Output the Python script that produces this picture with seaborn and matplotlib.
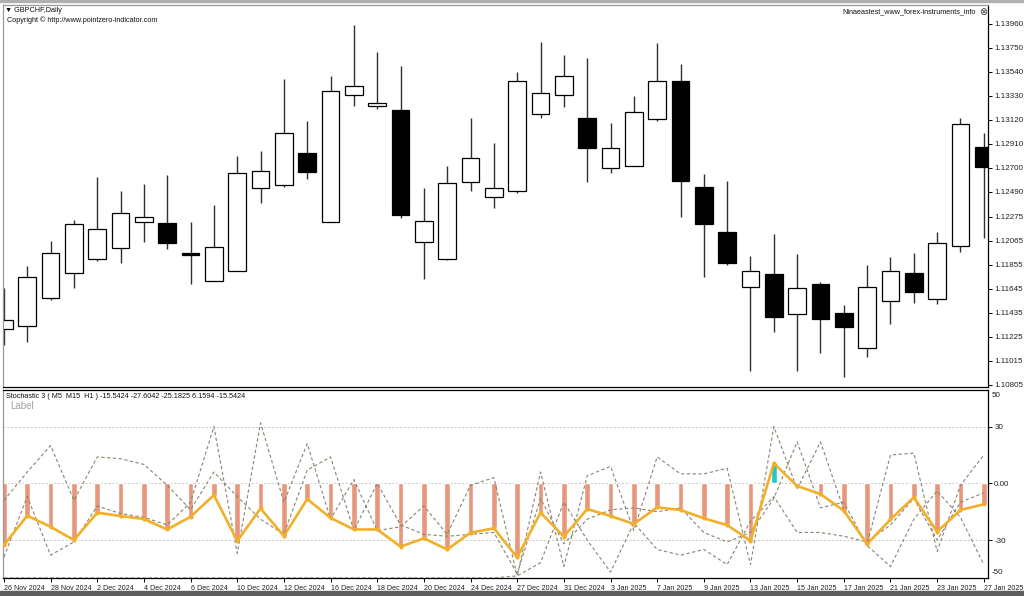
import matplotlib
matplotlib.use("Agg")
import matplotlib.pyplot as plt
import seaborn as sns
from matplotlib.patches import Rectangle

# GBPCHF daily bars, 26 Nov 2024 - 27 Jan 2025
dates = ["26 Nov 2024", "27 Nov 2024", "28 Nov 2024", "29 Nov 2024", "2 Dec 2024", "3 Dec 2024",
         "4 Dec 2024", "5 Dec 2024", "6 Dec 2024", "9 Dec 2024", "10 Dec 2024", "11 Dec 2024",
         "12 Dec 2024", "13 Dec 2024", "16 Dec 2024", "17 Dec 2024", "18 Dec 2024", "19 Dec 2024",
         "20 Dec 2024", "23 Dec 2024", "24 Dec 2024", "26 Dec 2024", "27 Dec 2024", "30 Dec 2024",
         "31 Dec 2024", "2 Jan 2025", "3 Jan 2025", "6 Jan 2025", "7 Jan 2025", "8 Jan 2025",
         "9 Jan 2025", "10 Jan 2025", "13 Jan 2025", "14 Jan 2025", "15 Jan 2025", "16 Jan 2025",
         "17 Jan 2025", "20 Jan 2025", "21 Jan 2025", "22 Jan 2025", "23 Jan 2025", "24 Jan 2025",
         "27 Jan 2025"]
opens = [1.11291, 1.11318, 1.11563, 1.11781, 1.11904, 1.12000, 1.12228, 1.12219, 1.11956, 1.11711,
         1.11799, 1.12525, 1.12551, 1.12831, 1.12228, 1.13339, 1.13243, 1.13208, 1.12053, 1.11904,
         1.12578, 1.12446, 1.12499, 1.13173, 1.13339, 1.13138, 1.12700, 1.12718, 1.13129, 1.13461,
         1.12534, 1.12140, 1.11659, 1.11773, 1.11423, 1.11685, 1.11431, 1.11125, 1.11536, 1.11781,
         1.11554, 1.12018, 1.12884]
highs = [1.11650, 1.11843, 1.12061, 1.12245, 1.12621, 1.12499, 1.12560, 1.12639, 1.12228, 1.12376,
         1.12805, 1.12849, 1.13479, 1.13111, 1.13505, 1.13951, 1.13715, 1.13593, 1.12525, 1.12718,
         1.13138, 1.12919, 1.13540, 1.13803, 1.13689, 1.13663, 1.13094, 1.13330, 1.13794, 1.13610,
         1.12648, 1.12586, 1.11930, 1.12123, 1.11948, 1.11703, 1.11501, 1.11851, 1.11921, 1.11956,
         1.12140, 1.13138, 1.13006]
lows = [1.11151, 1.11178, 1.11545, 1.11650, 1.11886, 1.11869, 1.12053, 1.11991, 1.11685, 1.11711,
        1.11799, 1.12394, 1.12534, 1.12604, 1.12228, 1.13243, 1.13216, 1.12263, 1.11729, 1.11895,
        1.12499, 1.12350, 1.12481, 1.13138, 1.13234, 1.12578, 1.12656, 1.12718, 1.13111, 1.12271,
        1.11746, 1.11851, 1.10924, 1.11265, 1.10924, 1.11081, 1.10871, 1.11046, 1.11335, 1.11519,
        1.11510, 1.11965, 1.12088]
closes = [1.11370, 1.11746, 1.11956, 1.12210, 1.12166, 1.12306, 1.12271, 1.12044, 1.11939, 1.12009,
          1.12656, 1.12674, 1.13006, 1.12665, 1.13374, 1.13418, 1.13269, 1.12289, 1.12236, 1.12569,
          1.12788, 1.12525, 1.13461, 1.13356, 1.13505, 1.12875, 1.12875, 1.13190, 1.13461, 1.12586,
          1.12210, 1.11869, 1.11799, 1.11396, 1.11650, 1.11379, 1.11309, 1.11659, 1.11799, 1.11615,
          1.12044, 1.13085, 1.12709]

# Stochastic 3 subwindow
stoch_main = [-32.7, -17.1, -23.0, -30.0, -15.5, -17.3, -18.9, -24.4, -17.7, -6.2, -30.5, -13.3,
              -27.9, -8.3, -18.3, -24.4, -24.4, -33.5, -29.1, -35.0, -26.1, -23.8, -39.2, -15.5,
              -28.2, -13.6, -17.3, -21.5, -12.7, -14.1, -18.5, -22.1, -30.4, 10.6, -1.4, -5.7,
              -14.5, -32.1, -19.1, -7.4, -25.6, -14.1, -11.1]
stoch_m5 = [-39, -7, -38, -31, -12, -16, -18, -22, -10, 30, -37, 32, -10, 21, -19, 2, -25, -23,
            -12, -27, -1, 3, -49, 6, -44, 4, 9, -25, 14, 5, 5, 8, -43, 30, -3, 22, -14, -32, 15,
            16, -36, -1, 15]
stoch_m15 = [-9, 6, 20, -9, 14, 13, 10, -1, -14, 6, -7, -19, -27, 7, 14, -25, 0, -22, -27, -28,
             -27, -26, -48, -8, -32, -19, -14, -13, -15, -13, -26, -31, -26, -8, 22, -13, -10, -33,
             -44, -19, -4, -18, -43]
stoch_h1 = [-50, -50, -50, -50, -50, -50, -50, -50, -50, -50, -50, -50, -50, -50, -50, -50, -50,
            -50, -50, -50, -50, -50, -49, -42, -10, -30, -47, -21, -35, -38, -35, -43, -20, -7,
            -26, -26, -28, -31, -22, -8, -30, -10, -5]

price_ticks = [1.13960, 1.13750, 1.13540, 1.13330, 1.13120, 1.12910, 1.12700, 1.12490, 1.12275,
               1.12065, 1.11855, 1.11645, 1.11435, 1.11225, 1.11015, 1.10805]

sns.set_theme(style="white")
plt.rcParams["font.family"] = ["Liberation Sans", "DejaVu Sans"]

W, H = 1024, 596
fig = plt.figure(figsize=(W / 100, H / 100), dpi=100)
fig.patch.set_facecolor("white")


def px(x0, y0, x1, y1):
    return [x0 / W, 1 - y1 / H, (x1 - x0) / W, (y1 - y0) / H]


ax1 = fig.add_axes(px(3, 5, 988, 387))
ax2 = fig.add_axes(px(3, 390, 988, 578))
idx = list(range(len(dates)))

# candles
for i in idx:
    o, c = opens[i], closes[i]
    bull = c >= o
    ax1.vlines(i, lows[i], highs[i], color="#303030", lw=1, zorder=1)
    ax1.bar(i, max(abs(c - o), 0.00002), bottom=min(o, c), width=0.76,
            color="white" if bull else "black", edgecolor="black", linewidth=0.9, zorder=2)

ax1.set_xlim(-0.04, 42.18)
ax1.set_ylim(1.10784, 1.14126)
ax1.yaxis.tick_right()
ax1.set_yticks(price_ticks)
ax1.set_yticklabels([f"{p:.5f}" for p in price_ticks], fontsize=5.8, color="#202020")
ax1.set_xticks([])
ax1.tick_params(axis="y", which="both", right=True, length=3, width=0.7, color="black", pad=1.5)
for s in ["left", "top"]:
    ax1.spines[s].set_color("#9a9a9a")
for s in ["right", "bottom"]:
    ax1.spines[s].set_color("black")
for s in ax1.spines.values():
    s.set_linewidth(0.9)

# stochastic panel
ax2.bar(idx, stoch_main, width=0.24,
        color=["#22C8C8" if v > 0 else "#E8967C" for v in stoch_main], zorder=2)
for series in [stoch_m5, stoch_m15, stoch_h1]:
    sns.lineplot(x=idx, y=series, ax=ax2, color="#8A8470", lw=0.8, linestyle=(0, (3, 2.2)), zorder=3)
sns.lineplot(x=idx, y=stoch_main, ax=ax2, color="#F2B02A", lw=1.9, marker="o", markersize=3,
             markeredgewidth=0, zorder=4)
for lvl in [30, 0, -30]:
    ax2.axhline(lvl, color="#c8c8c8", lw=0.7, linestyle=(0, (2, 2)), zorder=1)

ax2.set_xlim(-0.04, 42.18)
ax2.set_ylim(-50.1, 49.4)
ax2.yaxis.tick_right()
ax2.set_yticks([30, 0, -30])
ax2.set_yticklabels(["30", "0.00", "-30"], fontsize=5.8, color="#202020")
ax2.text(1.004, 46.5, "50", transform=ax2.get_yaxis_transform(), fontsize=5.8, va="center", color="#202020")
ax2.text(1.004, -47, "-50", transform=ax2.get_yaxis_transform(), fontsize=5.8, va="center", color="#202020")
ax2.set_xticks(idx[::2])
ax2.set_xticklabels(dates[::2], fontsize=5.1, ha="left", color="#202020")
ax2.tick_params(axis="x", bottom=True, length=3, width=0.7, color="black", pad=2)
ax2.tick_params(axis="y", right=True, length=3, width=0.7, color="black", pad=1.5)
ax2.set_xlabel("")
ax2.set_ylabel("")
ax2.spines["left"].set_color("#9a9a9a")
for s in ["right", "bottom", "top"]:
    ax2.spines[s].set_color("black")
for s in ax2.spines.values():
    s.set_linewidth(0.9)

# header texts
fig.text(5 / W, 1 - 10 / H, "\u25bc GBPCHF,Daily", fontsize=5.2, va="center", color="#101010")
fig.text(7 / W, 1 - 20 / H, "Copyright \u00a9 http://www.pointzero-indicator.com", fontsize=5.2,
         va="center", color="#101010")
fig.text(976 / W, 1 - 12 / H, "Ninaeastest_www_forex-instruments_info", fontsize=5.2, ha="right",
         va="center", color="#101010")
fig.text(983 / W, 1 - 12 / H, "\u2297", fontsize=7, ha="center", va="center", color="#303030",
         family="DejaVu Sans")
fig.text(6 / W, 1 - 397 / H, "Stochastic 3 ( M5  M15  H1 ) -15.5424 -27.6042 -25.1825 6.1594 -15.5424",
         fontsize=5.2, va="center", color="#101010")
fig.text(10 / W, 1 - 406 / H, "Label", fontsize=7, va="center", color="#a0a0a0")

# window frame
fig.add_artist(Rectangle((0, 1 - 2 / H), 1, 2 / H, transform=fig.transFigure, color="#b0b0b0"))
fig.add_artist(Rectangle((0, 0), 1, 5 / H, transform=fig.transFigure, color="#5e5e5e"))

fig.savefig("out.png", dpi=100)
